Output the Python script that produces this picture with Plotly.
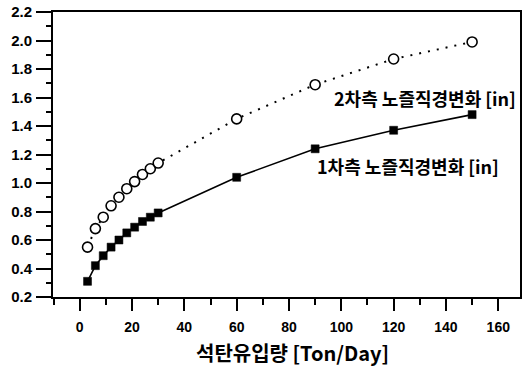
import plotly.graph_objects as go

# Data
x_vals = [3, 6, 9, 12, 15, 18, 21, 24, 27, 30, 60, 90, 120, 150]
primary_diam = [0.31, 0.42, 0.49, 0.55, 0.60, 0.65, 0.69, 0.73, 0.76, 0.79, 1.04, 1.24, 1.37, 1.48]
secondary_diam = [0.55, 0.68, 0.76, 0.84, 0.90, 0.96, 1.01, 1.06, 1.10, 1.14, 1.45, 1.69, 1.87, 1.99]

x_ticks = [0, 20, 40, 60, 80, 100, 120, 140, 160]
y_ticks = [0.2, 0.4, 0.6, 0.8, 1.0, 1.2, 1.4, 1.6, 1.8, 2.0, 2.2]
y_tick_text = ["0.2", "0.4", "0.6", "0.8", "1.0", "1.2", "1.4", "1.6", "1.8", "2.0", "2.2"]

label_secondary = "2차측 노즐직경변화 [in]"
label_primary = "1차측 노즐직경변화 [in]"
x_title = "석탄유입량 [Ton/Day]"

KFONT = "Noto Sans CJK KR"
TFONT = "Arial, Liberation Sans, sans-serif"

fig = go.Figure()
fig.add_trace(go.Scatter(
    x=x_vals, y=secondary_diam, mode="lines+markers",
    line=dict(color="black", width=2, dash="2px,7px"),
    marker=dict(symbol="circle", size=10, color="white",
                line=dict(color="black", width=1.6)),
    showlegend=False,
))
fig.add_trace(go.Scatter(
    x=x_vals, y=primary_diam, mode="lines+markers",
    line=dict(color="black", width=1.6),
    marker=dict(symbol="square", size=8, color="black",
                line=dict(color="black", width=0.5)),
    showlegend=False,
))

fig.add_annotation(x=96.5, y=1.60, xref="x", yref="y", text=label_secondary,
                   showarrow=False, xanchor="left", yanchor="middle",
                   font=dict(family=KFONT, size=18, color="black", weight="bold"))
fig.add_annotation(x=90.0, y=1.12, xref="x", yref="y", text=label_primary,
                   showarrow=False, xanchor="left", yanchor="middle",
                   font=dict(family=KFONT, size=18, color="black", weight="bold"))
fig.add_annotation(x=0.513, y=-0.195, xref="paper", yref="paper", text=x_title,
                   showarrow=False, xanchor="center", yanchor="middle",
                   font=dict(family=KFONT, size=20, color="black", weight="bold"))

fig.update_xaxes(
    range=[-10.2, 168.3], tickvals=x_ticks, ticks="outside", ticklen=12,
    tickwidth=1.5, tickcolor="black", showline=True, linewidth=2,
    linecolor="black", mirror=True, showgrid=False, zeroline=False,
    tickfont=dict(family=TFONT, size=14, color="black", weight="bold"),
    ticklabelstandoff=4,
    minor=dict(dtick=10, tick0=0, ticks="outside", ticklen=6,
               tickwidth=1.5, tickcolor="black", showgrid=False),
)
fig.update_yaxes(
    range=[0.2, 2.2], tickvals=y_ticks, ticktext=y_tick_text,
    ticks="outside", ticklen=15, tickwidth=1.5, tickcolor="black",
    showline=True, linewidth=2, linecolor="black", mirror=True,
    showgrid=False, zeroline=False,
    tickfont=dict(family=TFONT, size=15, color="black", weight="bold"),
    ticklabelstandoff=1,
    minor=dict(dtick=0.1, tick0=0.2, ticks="outside", ticklen=5,
               tickwidth=1.5, tickcolor="black", showgrid=False),
)

fig.update_layout(
    width=524, height=369,
    margin=dict(l=53, r=2, t=12, b=72),
    paper_bgcolor="white", plot_bgcolor="white",
)

fig.write_html("out.html")
